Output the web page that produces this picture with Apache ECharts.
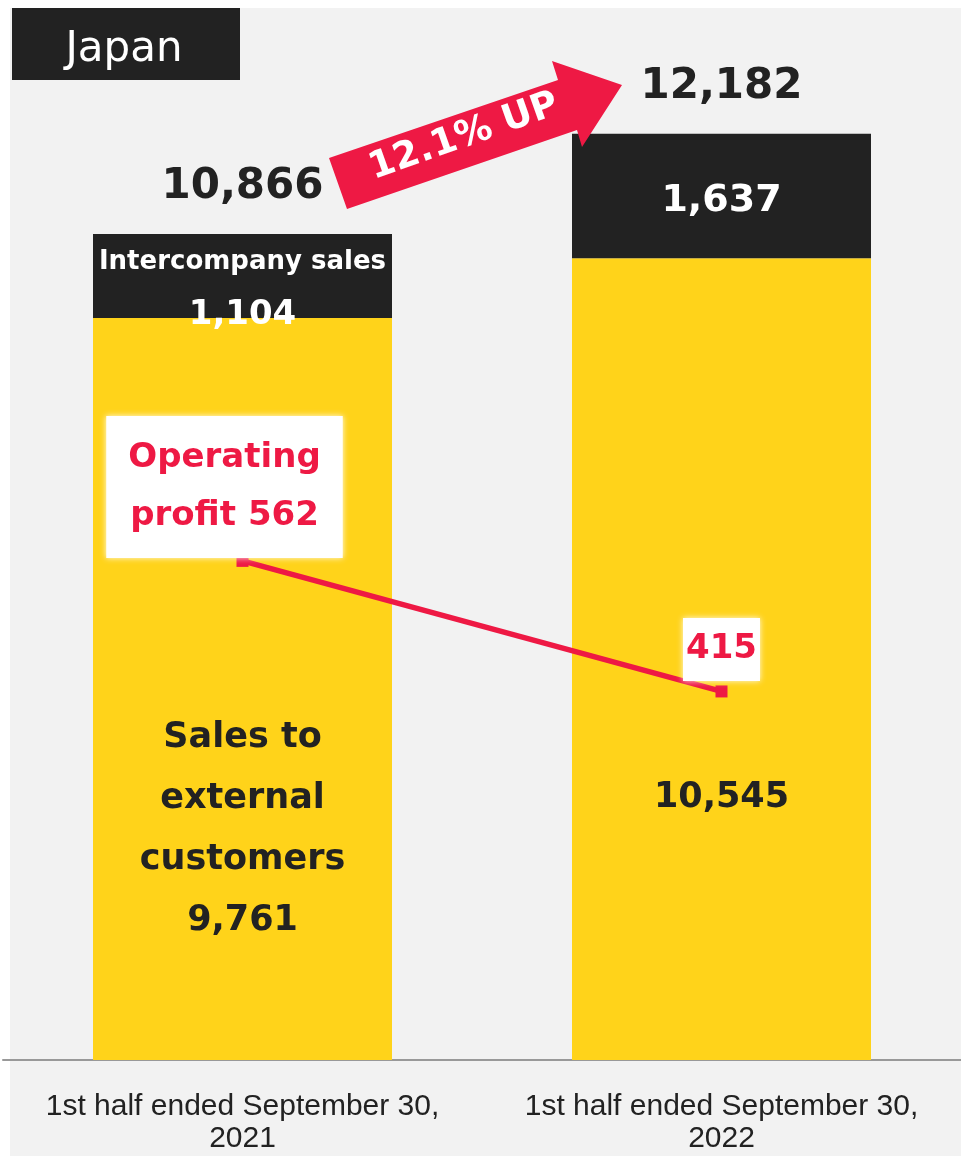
<!DOCTYPE html>
<html>
<head>
<meta charset="utf-8">
<title>Japan</title>
<script src="https://cdn.jsdelivr.net/npm/echarts@6/dist/echarts.min.js"></script>
<style>
  html, body { margin: 0; padding: 0; background: #ffffff; }
  #main { width: 961px; height: 1156px; }
</style>
</head>
<body>
<div id="main"></div>
<script>
// 数据
const categories = ['1st half ended September 30,\n2021', '1st half ended September 30,\n2022'];
const externalSales = [9761, 10545];
const intercompanySales = [1104, 1637];
const totalSales = [10866, 12182];
const operatingProfit = [562, 415];
const regionName = 'Japan';
const growthText = '12.1% UP';

const YELLOW = '#FFD31A';
const DARK = '#222222';
const RED = '#EE1944';
const FONT = '"DejaVu Sans", Verdana, sans-serif';

const fmt = v => v.toLocaleString('en-US');

var myChart = echarts.init(document.getElementById('main'));

// 外部顾客销售额的标签
const externalData = externalSales.map((v, i) => ({
    value: v,
    label: i === 0 ? {
        formatter: 'Sales to\nexternal\ncustomers\n' + fmt(v),
        distance: 109
    } : {
        formatter: fmt(v),
        distance: 232
    }
}));

const interData = intercompanySales.map((v, i) => ({
    value: v,
    label: i === 0 ? {
        position: 'insideTop',
        distance: 8,
        formatter: '{a|Intercompany sales}\n{b|' + fmt(v) + '}'
    } : {
        position: 'inside',
        offset: [0, 5],
        formatter: '{c|' + fmt(v) + '}'
    }
}));

const profitData = operatingProfit.map((v, i) => ({
    value: v,
    label: i === 0 ? {
        formatter: 'Operating\nprofit ' + fmt(v),
        offset: [-18, -74],
        padding: [26, 22, 0, 22],
        lineHeight: 58
    } : {
        formatter: fmt(v),
        offset: [0, -42],
        padding: [16, 3, 4, 3],
        lineHeight: 43
    }
}));

myChart.setOption({
    animation: false,
    backgroundColor: '#ffffff',
    grid: { left: 3, right: 0, top: 60, bottom: 96 },
    xAxis: {
        type: 'category',
        data: categories,
        axisLine: { lineStyle: { color: '#999999', width: 2 } },
        axisTick: { show: false },
        axisLabel: {
            interval: 0,
            hideOverlap: false,
            margin: 31,
            color: DARK,
            fontFamily: '"Liberation Sans", Arial, sans-serif',
            fontSize: 30,
            lineHeight: 32
        }
    },
    yAxis: [
        { type: 'value', min: 0, max: 13153, show: false, splitLine: { show: false } },
        { type: 'value', min: 0, max: 1126, show: false, splitLine: { show: false } }
    ],
    graphic: [
        { type: 'rect', z: -10, shape: { x: 10, y: 8, width: 951, height: 1148 }, style: { fill: '#F2F2F2' } },
        { type: 'rect', z: 10, shape: { x: 12, y: 8, width: 228, height: 72 }, style: { fill: DARK } },
        {
            type: 'text', z: 11, x: 124, y: 50,
            style: { text: regionName, fill: '#ffffff', font: '42px ' + FONT, textAlign: 'center', textVerticalAlign: 'middle' }
        },
        {
            type: 'polygon', z: 100,
            shape: { points: [[329, 158], [558, 80], [552, 61], [622, 85], [582, 147], [577, 130], [347, 209]] },
            style: { fill: RED }
        },
        {
            type: 'text', z: 101, x: 464, y: 137, rotation: 0.34,
            style: { text: growthText, fill: '#ffffff', font: 'bold 37px ' + FONT, textAlign: 'center', textVerticalAlign: 'middle' }
        }
    ],
    series: [
        {
            name: 'Sales to external customers',
            type: 'bar',
            stack: 'sales',
            barWidth: 299,
            itemStyle: { color: YELLOW },
            label: {
                show: true,
                position: 'insideBottom',
                color: DARK,
                fontFamily: FONT,
                fontWeight: 'bold',
                fontSize: 35,
                lineHeight: 61
            },
            data: externalData
        },
        {
            name: 'Intercompany sales',
            type: 'bar',
            stack: 'sales',
            barWidth: 299,
            itemStyle: { color: DARK },
            label: {
                show: true,
                color: '#ffffff',
                fontFamily: FONT,
                fontWeight: 'bold',
                rich: {
                    a: { fontSize: 26, lineHeight: 40, color: '#ffffff', fontFamily: FONT, fontWeight: 'bold' },
                    b: { fontSize: 34, lineHeight: 66, color: '#ffffff', fontFamily: FONT, fontWeight: 'bold' },
                    c: { fontSize: 38, lineHeight: 50, color: '#ffffff', fontFamily: FONT, fontWeight: 'bold' }
                }
            },
            data: interData
        },
        {
            name: 'Total',
            type: 'line',
            symbolSize: 0,
            lineStyle: { opacity: 0 },
            label: {
                show: true,
                position: 'top',
                distance: 22,
                color: DARK,
                fontFamily: FONT,
                fontWeight: 'bold',
                fontSize: 42,
                lineHeight: 50,
                formatter: p => fmt(p.value)
            },
            z: 5,
            data: totalSales
        },
        {
            name: 'Operating profit',
            type: 'line',
            yAxisIndex: 1,
            symbol: 'rect',
            symbolSize: 12,
            lineStyle: { color: RED, width: 5.5 },
            itemStyle: { color: RED },
            label: {
                show: true,
                position: 'inside',
                color: RED,
                fontFamily: FONT,
                fontWeight: 'bold',
                fontSize: 34,
                backgroundColor: '#ffffff',
                shadowColor: 'rgba(255,255,255,0.9)',
                shadowBlur: 6
            },
            z: 6,
            data: profitData
        }
    ]
});
</script>
</body>
</html>
